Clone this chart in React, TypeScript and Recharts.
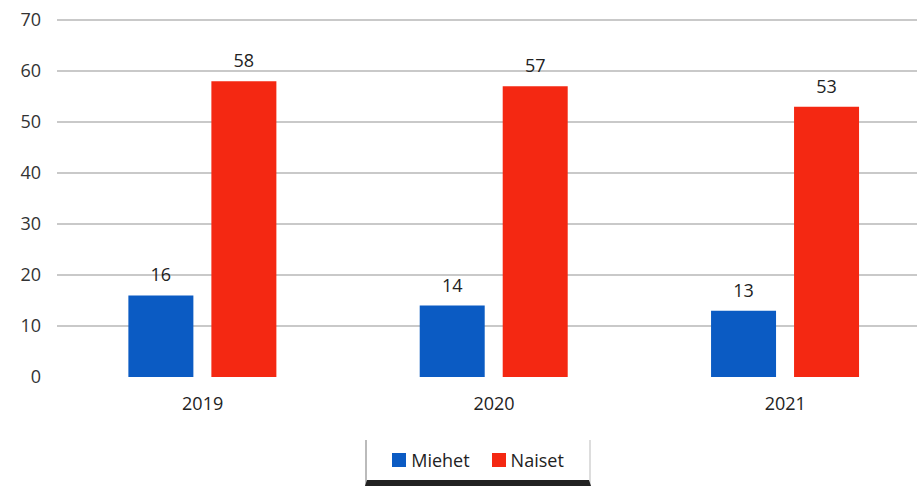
import { BarChart, Bar, XAxis, YAxis, CartesianGrid, Legend, LabelList } from "recharts";

const years = ["2019", "2020", "2021"];
const miehet = [16, 14, 13];
const naiset = [58, 57, 53];
const yTicks = [0, 10, 20, 30, 40, 50, 60, 70];
const gridValues = [10, 20, 30, 40, 50, 60, 70];

const data = years.map((year, i) => ({ year, Miehet: miehet[i], Naiset: naiset[i] }));

const FONT = "'Open Sans', 'Liberation Sans', sans-serif";
const BLUE = "#0b5bc3";
const RED = "#f42812";

function LegendBox() {
  const item = (color: string, text: string) => (
    <span style={{ display: "inline-flex", alignItems: "center", gap: 5 }}>
      <span style={{ width: 14, height: 14, background: color, display: "inline-block" }} />
      {text}
    </span>
  );
  return (
    <div
      style={{
        boxSizing: "border-box",
        width: 226,
        height: 46,
        display: "flex",
        justifyContent: "center",
        gap: 22,
        alignItems: "center",
        borderLeft: "2px solid #bbb",
        borderRight: "2px solid #ddd",
        borderBottom: "6px solid #222",
        fontFamily: FONT,
        fontSize: 18,
        color: "#222",
        background: "#fff",
      }}
    >
      {item(BLUE, "Miehet")}
      {item(RED, "Naiset")}
    </div>
  );
}

export default function App() {
  return (
    <div style={{ position: "fixed", left: 0, top: 0, width: 917, height: 491, overflow: "hidden", background: "#fff" }}>
      <BarChart
        width={931}
        height={491}
        data={data}
        margin={{ top: 20, right: 0, bottom: 0, left: 0 }}
        barCategoryGap="24.5%"
        barGap={18}
      >
        <CartesianGrid vertical={false} horizontalValues={gridValues} stroke="#c9c9c9" strokeWidth={2} />
        <XAxis
          dataKey="year"
          axisLine={false}
          tickLine={false}
          tickMargin={14}
          height={70}
          tick={{ fill: "#222", fontSize: 18, fontFamily: FONT }}
        />
        <YAxis
          domain={[0, 70]}
          ticks={yTicks}
          width={57}
          axisLine={false}
          tickLine={false}
          tickMargin={10}
          tick={{ fill: "#333", fontSize: 18, fontFamily: FONT }}
        />
        <Legend
          verticalAlign="bottom"
          height={44}
          wrapperStyle={{ left: 365, top: 440, width: 226 }}
          content={() => <LegendBox />}
        />
        <Bar dataKey="Miehet" fill={BLUE} isAnimationActive={false}>
          <LabelList dataKey="Miehet" position="top" offset={14} fill="#222" fontSize={18} fontFamily={FONT} />
        </Bar>
        <Bar dataKey="Naiset" fill={RED} isAnimationActive={false}>
          <LabelList dataKey="Naiset" position="top" offset={14} fill="#222" fontSize={18} fontFamily={FONT} />
        </Bar>
      </BarChart>
    </div>
  );
}
